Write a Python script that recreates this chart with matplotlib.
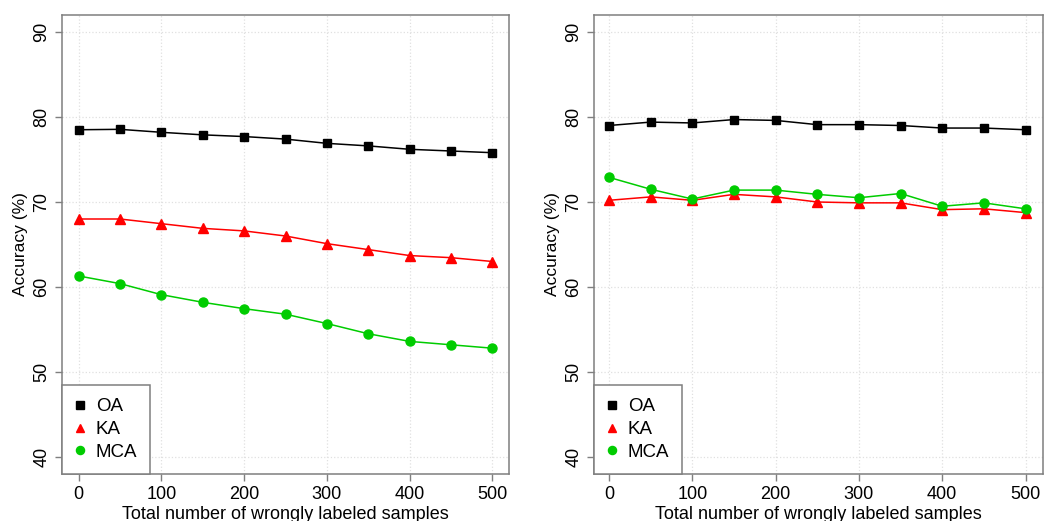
import matplotlib
matplotlib.use('Agg')
import matplotlib.pyplot as plt

plt.rcParams['font.family'] = ['Liberation Sans', 'DejaVu Sans']

# Data
noise = [0, 50, 100, 150, 200, 250, 300, 350, 400, 450, 500]

left_oa = [78.5, 78.55, 78.2, 77.9, 77.7, 77.4, 76.9, 76.6, 76.2, 76.0, 75.8]
left_ka = [68.0, 68.0, 67.45, 66.9, 66.6, 66.0, 65.1, 64.4, 63.7, 63.45, 63.0]
left_mca = [61.3, 60.4, 59.1, 58.2, 57.45, 56.8, 55.7, 54.5, 53.6, 53.2, 52.8]

right_oa = [79.0, 79.4, 79.3, 79.7, 79.6, 79.1, 79.1, 79.0, 78.7, 78.7, 78.5]
right_ka = [70.2, 70.6, 70.2, 70.9, 70.6, 70.0, 69.9, 69.9, 69.1, 69.2, 68.75]
right_mca = [72.9, 71.5, 70.35, 71.4, 71.4, 70.9, 70.5, 71.0, 69.5, 69.9, 69.2]

x_ticks = [0, 100, 200, 300, 400, 500]
y_ticks = [40, 50, 60, 70, 80, 90]

FRAME = '#7f7f7f'

fig = plt.figure(figsize=(10.47, 5.21), dpi=100)
ax1 = fig.add_axes([62 / 1047, 1 - 474 / 521, 447 / 1047, 459 / 521])
ax2 = fig.add_axes([594 / 1047, 1 - 474 / 521, 449 / 1047, 459 / 521])

panels = [
    (ax1, left_oa, left_ka, left_mca, (-20, 520)),
    (ax2, right_oa, right_ka, right_mca, (-18, 521)),
]

for ax, oa, ka, mca, xlim in panels:
    ax.plot(noise, oa, color='black', marker='s', markersize=6, linewidth=1.1, label='OA')
    ax.plot(noise, ka, color='#ff0000', marker='^', markersize=7, linewidth=1.1, label='KA')
    ax.plot(noise, mca, color='#00cc00', marker='o', markersize=6.5, linewidth=1.1, label='MCA')

    ax.set_xlim(*xlim)
    ax.set_ylim(38, 92)
    ax.set_xticks(x_ticks)
    ax.set_yticks(y_ticks)
    ax.grid(True, color='#e0e0e0', linestyle=':', linewidth=0.9)
    ax.set_axisbelow(True)

    for s in ax.spines.values():
        s.set_color(FRAME)
        s.set_linewidth(1.1)
    ax.tick_params(axis='both', colors=FRAME, labelcolor='black', labelsize=13,
                   length=5, width=1)
    for lbl in ax.get_yticklabels():
        lbl.set_rotation(90)
        lbl.set_va('center')

    ax.set_xlabel('Total number of wrongly labeled samples', fontsize=13, labelpad=2)
    ax.set_ylabel('Accuracy (%)', fontsize=12.5, labelpad=4)

    leg = ax.legend(loc='lower left', bbox_to_anchor=(0, 0), borderaxespad=0,
                    fancybox=False, edgecolor=FRAME, fontsize=13.5, handlelength=0.5,
                    handletextpad=0.6, labelspacing=0.3, borderpad=0.7,
                    markerscale=0.9, framealpha=1)
    leg.get_frame().set_linewidth(1.1)
    for h in leg.get_lines():
        h.set_linestyle('none')

fig.savefig('out.png', dpi=100)
